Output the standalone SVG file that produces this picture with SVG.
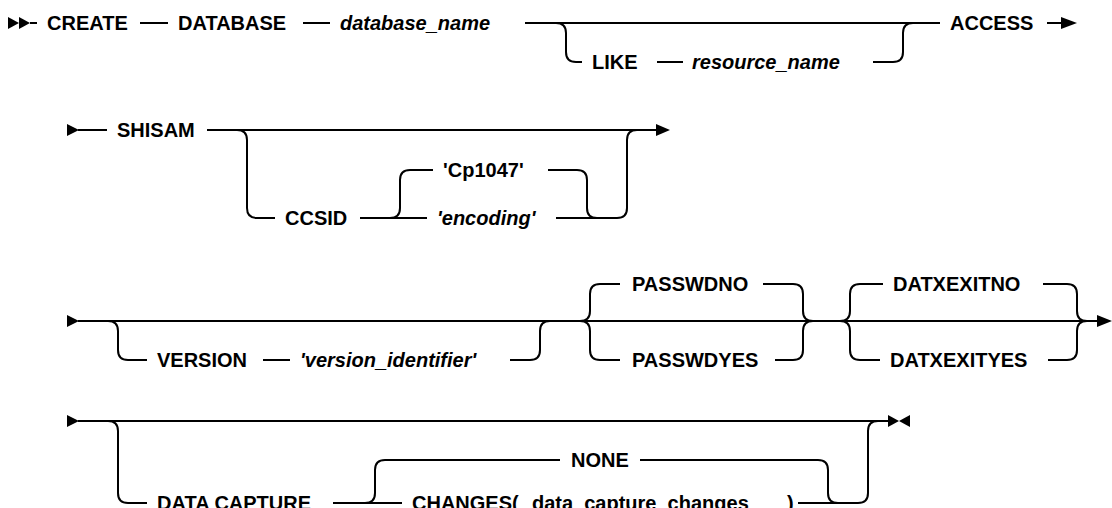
<svg xmlns="http://www.w3.org/2000/svg" width="1112" height="508" viewBox="0 0 1112 508">
<style>
text{font-family:"Liberation Sans",Arial,sans-serif;font-size:20px;font-weight:700;fill:#000}
.i{font-style:italic}
.c{fill:none;stroke:#000;stroke-width:2}
.h{fill:#000}
</style>
<rect width="1112" height="508" fill="#fff"/>
<g id="connectors">
<polygon class="h" points="8,17 19,23 8,29"/>
<polygon class="h" points="19,17 30,23 19,29"/>
<path class="c" d="M30,23H37 M140,23H168 M303,23H330 M525,23H940 M1047,23H1062"/>
<path class="c" d="M556,23Q566,23 566,33V52Q566,62 576,62H582 M657,62H683 M873,62H893Q903,62 903,52V33Q903,23 913,23"/>
<polygon class="h" points="1061,17 1077,23 1061,29"/>
<polygon class="h" points="67,124 79,130 67,136"/>
<path class="c" d="M78,130H107 M207,130H657"/>
<polygon class="h" points="656,124 670,130 656,136"/>
<path class="c" d="M237,130Q247,130 247,140V208Q247,218 257,218H275 M360,218H427 M390,218Q400,218 400,208V180Q400,170 410,170H433 M548,170H577Q587,170 587,180V208Q587,218 597,218 M556,218H617Q627,218 627,208V140Q627,130 637,130"/>
<polygon class="h" points="67,315 79,321 67,327"/>
<path class="c" d="M78,321H1097"/>
<polygon class="h" points="1097,315 1112,321 1097,327"/>
<path class="c" d="M108,321Q118,321 118,331V350Q118,360 128,360H147 M263,360H290 M510,360H530Q540,360 540,350V331Q540,321 550,321"/>
<path class="c" d="M580,321Q590,321 590,311V294Q590,284 600,284H620 M580,321Q590,321 590,331V350Q590,360 600,360H620 M763,284H793Q803,284 803,294V311Q803,321 813,321 M775,360H793Q803,360 803,350V331Q803,321 813,321"/>
<path class="c" d="M840,321Q850,321 850,311V294Q850,284 860,284H883 M840,321Q850,321 850,331V350Q850,360 860,360H880 M1043,284H1067Q1077,284 1077,294V311Q1077,321 1087,321 M1048,360H1067Q1077,360 1077,350V331Q1077,321 1087,321"/>
<polygon class="h" points="67,415 79,421 67,427"/>
<path class="c" d="M78,421H888"/>
<polygon class="h" points="888,415 899,421 888,427"/>
<polygon class="h" points="910,415 899,421 910,427"/>
<path class="c" d="M108,421Q118,421 118,431V493Q118,503 128,503H147 M333,503H402 M365,503Q375,503 375,493V470Q375,460 385,460H560 M640,460H818Q828,460 828,470V493Q828,503 838,503 M798,503H858Q868,503 868,493V431Q868,421 878,421"/>
</g>
<g id="n-create"><text x="47" y="30">CREATE</text></g>
<g id="n-database"><text x="178" y="30">DATABASE</text></g>
<g id="n-database_name"><text class="i" x="340" y="30">database_name</text></g>
<g id="n-like"><text x="592" y="69">LIKE</text></g>
<g id="n-resource_name"><text class="i" x="692" y="69">resource_name</text></g>
<g id="n-access"><text x="950" y="30">ACCESS</text></g>
<g id="n-shisam"><text x="117" y="137">SHISAM</text></g>
<g id="n-ccsid"><text x="285" y="225">CCSID</text></g>
<g id="n-cp1047"><text x="443" y="177">'Cp1047'</text></g>
<g id="n-encoding"><text class="i" x="437" y="225">'encoding'</text></g>
<g id="n-version"><text x="157" y="367">VERSION</text></g>
<g id="n-version_identifier"><text class="i" x="300" y="367">'version_identifier'</text></g>
<g id="n-passwdno"><text x="632" y="291">PASSWDNO</text></g>
<g id="n-passwdyes"><text x="632" y="367">PASSWDYES</text></g>
<g id="n-datxexitno"><text x="893" y="291">DATXEXITNO</text></g>
<g id="n-datxexityes"><text x="890" y="367">DATXEXITYES</text></g>
<g id="n-data_capture"><text x="157" y="510">DATA CAPTURE</text></g>
<g id="n-none"><text x="571" y="467">NONE</text></g>
<g id="n-changes"><text x="412" y="510">CHANGES(</text><text x="532" y="510">data_capture_changes</text><text x="787" y="510">)</text></g>
</svg>
